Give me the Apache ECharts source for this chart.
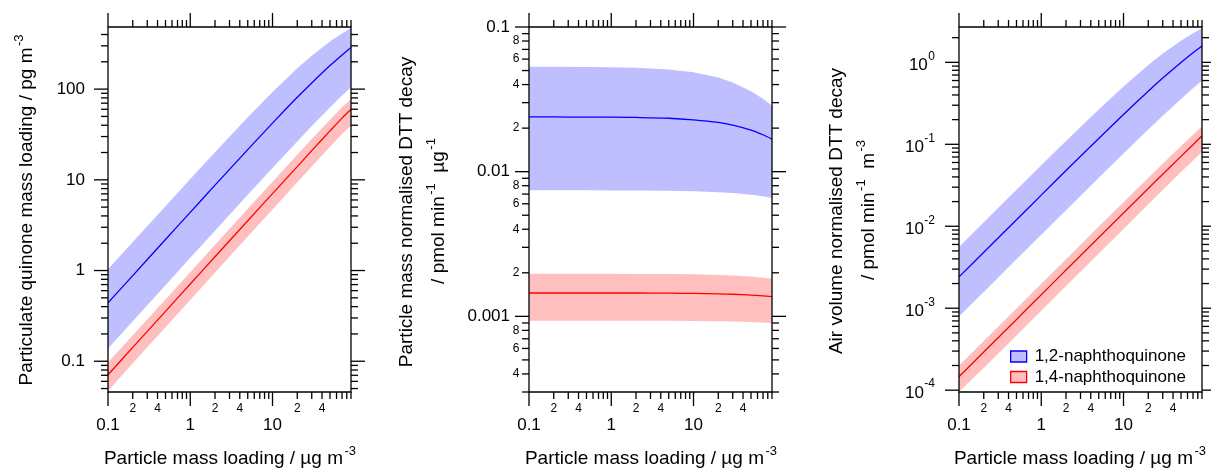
<!DOCTYPE html>
<html><head><meta charset="utf-8">
<script src="https://cdn.jsdelivr.net/npm/echarts@6/dist/echarts.min.js"></script>
<style>html,body{margin:0;padding:0;background:#fff}#c{width:1211px;height:471px}</style>
</head><body><div id="c"></div>
<script>
// ---------------- data ----------------
const xs = [0.1, 0.2, 0.5, 1, 2, 5, 10, 20, 30, 50, 70, 90];

// Panel 1: particulate quinone mass loading / pg m-3
const p1BlueMid = [0.44, 0.88, 2.2, 4.38, 8.73, 21.5, 42.2, 81.2, 117, 182, 238, 288];
const p1BlueHi  = [1.03, 2.06, 5.12, 10.2, 20.2, 48.9, 93, 170, 234, 335, 411, 471];
const p1BlueLo  = [0.138, 0.276, 0.69, 1.38, 2.75, 6.83, 13.5, 26.5, 39.1, 62.8, 84.9, 105];
const p1RedMid  = [0.071, 0.142, 0.355, 0.71, 1.42, 3.54, 7.05, 14.0, 21.0, 34.6, 47.9, 60];
const p1RedHi   = [0.097, 0.193, 0.48, 0.96, 1.92, 4.8, 9.5, 18.9, 28.2, 46, 63, 78];
const p1RedLo   = [0.047, 0.095, 0.237, 0.474, 0.95, 2.37, 4.72, 9.4, 14.0, 23.2, 32, 39.5];

// Panel 2: particle mass normalised DTT decay
const p2BlueMid = [0.0239, 0.0239, 0.0238, 0.0238, 0.0237, 0.0234, 0.0228, 0.0219, 0.0210, 0.0194, 0.0180, 0.0168];
const p2BlueHi  = [0.0532, 0.0531, 0.0529, 0.0527, 0.0522, 0.0508, 0.0486, 0.0447, 0.0413, 0.0360, 0.0319, 0.0286];
const p2BlueLo  = [0.00743, 0.00743, 0.00743, 0.00742, 0.00741, 0.00738, 0.00732, 0.00722, 0.00712, 0.00693, 0.00675, 0.00658];
const p2RedMid  = [0.00145, 0.00145, 0.00145, 0.00145, 0.00145, 0.001445, 0.00144, 0.001431, 0.001422, 0.001403, 0.001385, 0.001368];
const p2RedHi   = [0.00197, 0.00197, 0.00197, 0.00197, 0.001966, 0.00196, 0.001952, 0.001935, 0.001918, 0.001884, 0.001852, 0.00182];
const p2RedLo   = [0.000933, 0.000933, 0.000933, 0.000933, 0.000933, 0.000931, 0.000929, 0.000926, 0.000922, 0.000915, 0.000908, 0.0009];

// Panel 3: air volume normalised DTT decay
const p3BlueMid = [0.00241, 0.00482, 0.0120, 0.0240, 0.0478, 0.118, 0.231, 0.445, 0.643, 0.997, 1.31, 1.58];
const p3BlueHi  = [0.0056, 0.0112, 0.0279, 0.0554, 0.1097, 0.266, 0.507, 0.927, 1.28, 1.84, 2.27, 2.60];
const p3BlueLo  = [0.00079, 0.00158, 0.00395, 0.00788, 0.01573, 0.0391, 0.0774, 0.152, 0.223, 0.358, 0.483, 0.60];
const p3RedMid  = [0.000146, 0.000292, 0.00073, 0.00146, 0.00292, 0.00728, 0.0145, 0.0289, 0.0432, 0.0712, 0.0990, 0.127];
const p3RedHi   = [0.000199, 0.000398, 0.000995, 0.00199, 0.00397, 0.0099, 0.0197, 0.0391, 0.0581, 0.0952, 0.131, 0.166];
const p3RedLo   = [0.0000955, 0.000187, 0.000466, 0.000933, 0.00187, 0.00466, 0.00929, 0.0185, 0.0277, 0.0458, 0.0636, 0.081];

const seriesNames = ['1,2-naphthoquinone', '1,4-naphthoquinone'];

// axes ranges and tick labels
const xRange = [0.1, 90];
const xMajor = [0.1, 1, 10];
const xMajorLabels = ['0.1', '1', '10'];
const xMinorLabelVals = [0.2, 0.4, 2, 4, 20, 40];
const xMinorLabels = ['2', '4', '2', '4', '2', '4'];

const p1YRange = [0.0458, 484];
const p1YMajor = [0.1, 1, 10, 100];
const p1YMajorLabels = ['0.1', '1', '10', '100'];

const p2YRange = [0.0003, 0.1];
const p2YMajor = [0.001, 0.01, 0.1];
const p2YMajorLabels = ['0.001', '0.01', '0.1'];
const p2YMinorLabelVals = [0.0004, 0.0006, 0.0008, 0.002, 0.004, 0.006, 0.008, 0.02, 0.04, 0.06, 0.08];
const p2YMinorLabels = ['4', '6', '8', '2', '4', '6', '8', '2', '4', '6', '8'];

const p3YRange = [0.000095, 2.7];
const p3YMajor = [0.0001, 0.001, 0.01, 0.1, 1];
const p3YMajorBase = ['10', '10', '10', '10', '10'];
const p3YMajorExp = ['-4', '-3', '-2', '-1', '0'];

// titles: [text, isSuperscript]
const xTitle = [['Particle mass loading / µg m', false], ['-3', true]];
const p1YTitle = [['Particulate quinone mass loading / pg m', false], ['-3', true]];
const p2YTitle1 = [['Particle mass normalised DTT decay', false]];
const p2YTitle2 = [['/ pmol min', false], ['-1', true], ['  µg', false], ['-1', true]];
const p3YTitle1 = [['Air volume normalised DTT decay', false]];
const p3YTitle2 = [['/ pmol min', false], ['-1', true], ['  m', false], ['-3', true]];

// ---------------- styling ----------------
const FONT = '"Liberation Sans", Arial, Helvetica, sans-serif';
const LW = 1.3, MAJ = 14, MIN = 7;
const BLUE = '#0000ff', RED = '#ff0000', BLUE_F = 'rgb(191,191,255)', RED_F = 'rgb(255,191,191)';
const grids = [
  {left: 108, top: 27, width: 243, height: 365},
  {left: 529, top: 27, width: 243, height: 365},
  {left: 959, top: 27, width: 243, height: 365}
];

const mctx = document.createElement('canvas').getContext('2d');
function measure(t, size) { mctx.font = size + 'px ' + FONT; return mctx.measureText(t).width; }

function minorVals(min, max) {
  const out = [];
  for (let e = Math.floor(Math.log10(min)) - 1; e <= Math.ceil(Math.log10(max)); e++) {
    for (let m = 2; m <= 9; m++) {
      const v = m * Math.pow(10, e);
      if (v >= min * 0.9999 && v <= max * 1.0001) out.push(v);
    }
  }
  return out;
}

function band(gi, name, lo, hi, fill) {
  return {
    type: 'custom', name, xAxisIndex: gi, yAxisIndex: gi, z: 1, silent: true, clip: false,
    itemStyle: {color: fill},
    data: [[xs[0], lo[0]]],
    renderItem(params, api) {
      const pts = [];
      for (let i = 0; i < xs.length; i++) pts.push(api.coord([xs[i], hi[i]]));
      for (let i = xs.length - 1; i >= 0; i--) pts.push(api.coord([xs[i], lo[i]]));
      return {type: 'polygon', shape: {points: pts}, style: {fill: fill, stroke: null}};
    }
  };
}
function line(gi, name, ys, color) {
  return {
    type: 'line', name, xAxisIndex: gi, yAxisIndex: gi, z: 3, silent: true,
    showSymbol: false, smooth: 0.3, data: xs.map((x, i) => [x, ys[i]]),
    lineStyle: {color, width: 1.3}, itemStyle: {color}
  };
}

function decor(gi, yRange, yMajor, yLabelFn) {
  return {
    type: 'custom', xAxisIndex: gi, yAxisIndex: gi, z: 20, silent: true, clip: false,
    data: [[xRange[0], yRange[0]]],
    renderItem(params, api) {
      const ch = [];
      const a = api.coord([xRange[0], yRange[0]]), b = api.coord([xRange[1], yRange[1]]);
      const L = a[0], B = a[1], R = b[0], T = b[1];
      const ln = (x1, y1, x2, y2) => ({type: 'line', shape: {x1, y1, x2, y2}, style: {stroke: '#000', lineWidth: LW}});
      const tx = (text, x, y, size, align) => ({type: 'text', x, y, style: {text, fill: '#000', fontSize: size, fontFamily: FONT, align, verticalAlign: 'middle'}});
      const X = v => api.coord([v, yRange[0]])[0];
      const Y = v => api.coord([xRange[0], v])[1];
      ch.push({type: 'rect', shape: {x: L, y: T, width: R - L, height: B - T}, style: {fill: null, stroke: '#000', lineWidth: LW}});
      xMajor.forEach((v, i) => {
        const x = X(v);
        ch.push(ln(x, B, x, B + MAJ), ln(x, T, x, T - MAJ));
        ch.push(tx(xMajorLabels[i], x, B + 33, 17, 'center'));
      });
      minorVals(xRange[0], xRange[1]).forEach(v => { const x = X(v); ch.push(ln(x, B, x, B + MIN), ln(x, T, x, T - MIN)); });
      xMinorLabelVals.forEach((v, i) => ch.push(tx(xMinorLabels[i], X(v), B + 17, 12, 'center')));
      yMajor.forEach(v => { const y = Y(v); ch.push(ln(L, y, L - MAJ, y), ln(R, y, R + MAJ, y)); });
      minorVals(yRange[0], yRange[1]).forEach(v => { const y = Y(v); ch.push(ln(L, y, L - MIN, y), ln(R, y, R + MIN, y)); });
      yLabelFn(ch, Y, L, tx);
      return {type: 'group', children: ch};
    }
  };
}

function titleGroup(segs, cx, cy, rot, size, supSize, raise) {
  const widths = segs.map(s => measure(s[0], s[1] ? supSize : size));
  const gap = 1.5;
  let W = 0;
  segs.forEach((s, i) => { W += widths[i] + (s[1] ? gap : 0); });
  let x = -W / 2;
  const children = [];
  segs.forEach((s, i) => {
    if (s[1]) x += gap;
    children.push({type: 'text', x, y: s[1] ? -raise : 0,
      style: {text: s[0], fill: '#000', fontSize: s[1] ? supSize : size, fontFamily: FONT, align: 'left', verticalAlign: 'middle'}});
    x += widths[i];
  });
  return {type: 'group', x: cx, y: cy, rotation: rot, silent: true, children};
}

const chart = echarts.init(document.getElementById('c'), null, {renderer: 'canvas'});
const axisCommon = {type: 'log', logBase: 10, axisLine: {show: false}, axisTick: {show: false}, axisLabel: {show: false}, splitLine: {show: false}};
const yRanges = [p1YRange, p2YRange, p3YRange];

const option = {
  animation: false,
  backgroundColor: '#fff',
  grid: grids,
  xAxis: grids.map((g, i) => Object.assign({gridIndex: i, min: xRange[0], max: xRange[1]}, axisCommon)),
  yAxis: grids.map((g, i) => Object.assign({gridIndex: i, min: yRanges[i][0], max: yRanges[i][1]}, axisCommon)),
  legend: {
    orient: 'vertical', left: 1005, top: 343, itemWidth: 16, itemHeight: 11, itemGap: 3.5,
    selectedMode: false,
    textStyle: {fontSize: 17, fontFamily: FONT, color: '#000', lineHeight: 17, padding: [0, 0, 0, 3]},
    data: [
      {name: seriesNames[0], icon: 'rect', itemStyle: {color: BLUE_F, borderColor: BLUE, borderWidth: 1.3}},
      {name: seriesNames[1], icon: 'rect', itemStyle: {color: RED_F, borderColor: RED, borderWidth: 1.3}}
    ]
  },
  graphic: [
    titleGroup(xTitle, 230, 459, 0, 19, 13, 8),
    titleGroup(xTitle, 651, 459, 0, 19, 13, 8),
    titleGroup(xTitle, 1080, 459, 0, 19, 13, 8),
    titleGroup(p1YTitle, 27, 210, Math.PI / 2, 19, 13, 8),
    titleGroup(p2YTitle1, 407, 212, Math.PI / 2, 19, 13, 8),
    titleGroup(p2YTitle2, 439, 211, Math.PI / 2, 19, 13, 8),
    titleGroup(p3YTitle1, 837, 211, Math.PI / 2, 19, 13, 8),
    titleGroup(p3YTitle2, 869, 210, Math.PI / 2, 19, 13, 8)
  ],
  series: [
    band(2, seriesNames[0], p3BlueLo, p3BlueHi, BLUE_F),
    band(2, seriesNames[1], p3RedLo, p3RedHi, RED_F),
    band(0, seriesNames[0], p1BlueLo, p1BlueHi, BLUE_F),
    band(0, seriesNames[1], p1RedLo, p1RedHi, RED_F),
    band(1, seriesNames[0], p2BlueLo, p2BlueHi, BLUE_F),
    band(1, seriesNames[1], p2RedLo, p2RedHi, RED_F),
    line(0, 'p1 blue', p1BlueMid, BLUE),
    line(0, 'p1 red', p1RedMid, RED),
    line(1, 'p2 blue', p2BlueMid, BLUE),
    line(1, 'p2 red', p2RedMid, RED),
    line(2, 'p3 blue', p3BlueMid, BLUE),
    line(2, 'p3 red', p3RedMid, RED),
    decor(0, p1YRange, p1YMajor, (ch, Y, L, tx) => {
      p1YMajor.forEach((v, i) => ch.push(tx(p1YMajorLabels[i], L - 23, Y(v), 17, 'right')));
    }),
    decor(1, p2YRange, p2YMajor, (ch, Y, L, tx) => {
      p2YMajor.forEach((v, i) => ch.push(tx(p2YMajorLabels[i], L - 19, Y(v), 17, 'right')));
      p2YMinorLabelVals.forEach((v, i) => ch.push(tx(p2YMinorLabels[i], L - 9.5, Y(v), 12, 'right')));
    }),
    decor(2, p3YRange, p3YMajor, (ch, Y, L, tx) => {
      p3YMajor.forEach((v, i) => {
        const y = Y(v), xr = L - 24;
        const w = measure(p3YMajorExp[i], 12);
        ch.push(tx(p3YMajorExp[i], xr, y - 6, 12, 'right'));
        ch.push(tx(p3YMajorBase[i], xr - w - 0.5, y + 3, 17, 'right'));
      });
    })
  ]
};
chart.setOption(option);
</script>
</body></html>
